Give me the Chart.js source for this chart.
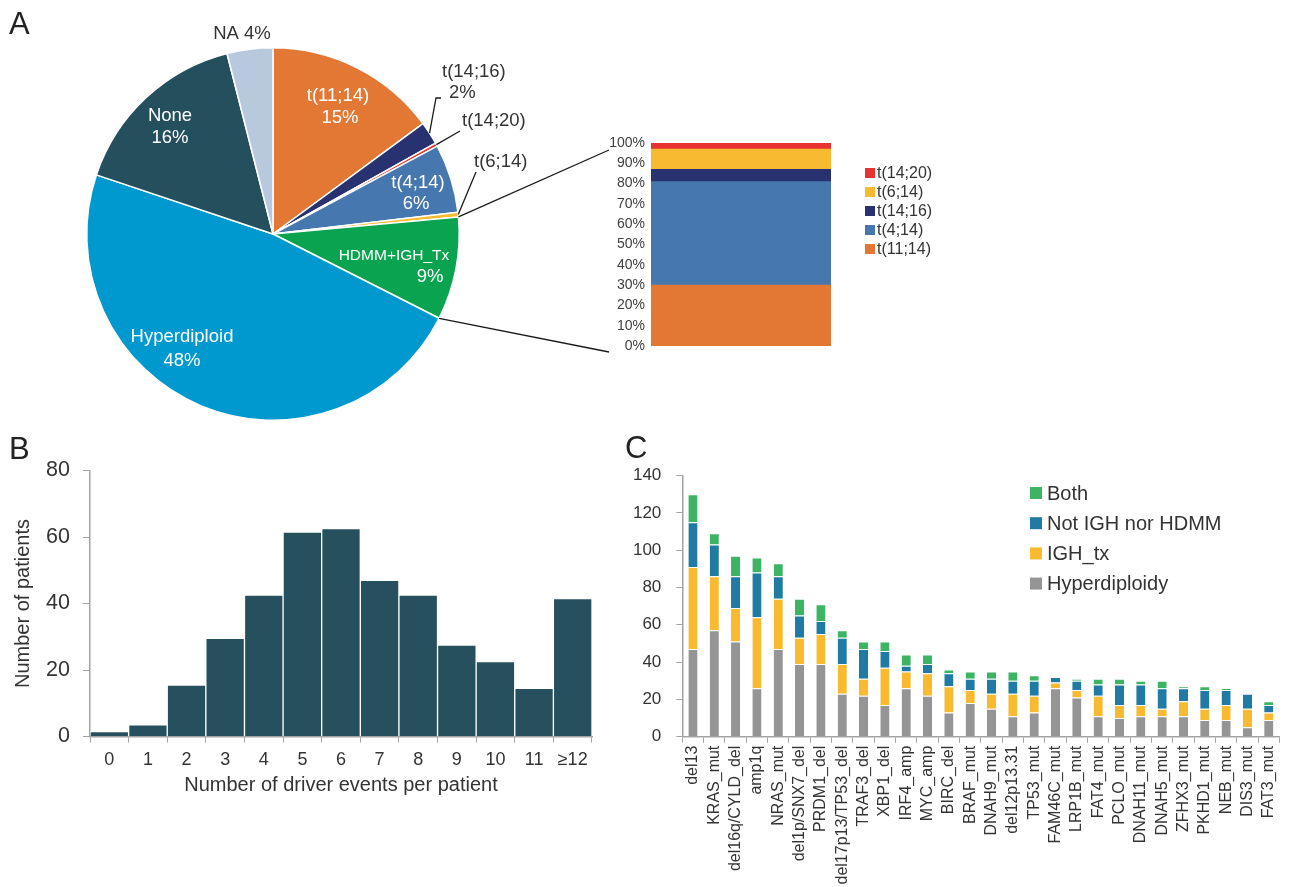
<!DOCTYPE html>
<html>
<head>
<meta charset="utf-8">
<title>Driver events in myeloma</title>
<script src="https://cdn.jsdelivr.net/npm/chart.js@4.4.1/dist/chart.umd.min.js"></script>
<style>
  html, body { margin: 0; padding: 0; background: #ffffff; }
  #page { position: relative; width: 1291px; height: 887px; overflow: hidden;
          font-family: "Liberation Sans", Arial, Helvetica, sans-serif; }
  #page canvas { position: absolute; }
  .tag { position: absolute; font-size: 31px; line-height: 1; color: #222; }
</style>
</head>
<body>
<div id="page">
  <canvas id="pie" width="620" height="430" style="left:0;top:0"></canvas>
  <canvas id="share" width="360" height="250" style="left:600px;top:120px"></canvas>
  <canvas id="hist" width="610" height="360" style="left:0;top:440px"></canvas>
  <canvas id="drivers" width="671" height="457" style="left:620px;top:430px"></canvas>
  <canvas id="links" width="1291" height="887" style="left:0;top:0;pointer-events:none"></canvas>
  <div class="tag" style="left:9px;top:8px">A</div>
  <div class="tag" style="left:9px;top:433px">B</div>
  <div class="tag" style="left:625px;top:432px">C</div>
</div>
<script>
// ---------- data ----------
// A: primary molecular groups (% of patients)
const pieLabels = ['t(11;14)', 't(14;16)', 't(14;20)', 't(4;14)', 't(6;14)', 'HDMM+IGH_Tx', 'Hyperdiploid', 'None', 'NA'];
const pieShare  = [15, 2, 0.3, 6, 0.4, 9, 48, 16, 4];
const pieColors = ['#e27833', '#283270', '#e8322f', '#4677ae', '#f8ba30', '#0aa450', '#0099cf', '#244f5d', '#b9c9dd'];

// A (inset): IGH translocation partner within HDMM+IGH_Tx, bottom to top (%)
const txLabels = ['t(11;14)', 't(4;14)', 't(14;16)', 't(6;14)', 't(14;20)'];
const txShare  = [30, 51, 6, 10, 3];
const txColors = ['#e27833', '#4677ae', '#283270', '#f8ba30', '#e8322f'];

// B: driver events per patient
const eventBins   = ['0', '1', '2', '3', '4', '5', '6', '7', '8', '9', '10', '11', '\u226512'];
const patientCount = [1.5, 3.5, 15.5, 29.5, 42.5, 61.5, 62.5, 47, 42.5, 27.5, 22.5, 14.5, 41.5];

// C: driver events split by primary group
const drivers = ['del13', 'KRAS_mut', 'del16q/CYLD_del', 'amp1q', 'NRAS_mut', 'del1p/SNX7_del', 'PRDM1_del',
  'del17p13/TP53_del', 'TRAF3_del', 'XBP1_del', 'IRF4_amp', 'MYC_amp', 'BIRC_del', 'BRAF_mut', 'DNAH9_mut',
  'del12p13.31', 'TP53_mut', 'FAM46C_mut', 'LRP1B_mut', 'FAT4_mut', 'PCLO_mut', 'DNAH11_mut', 'DNAH5_mut',
  'ZFHX3_mut', 'PKHD1_mut', 'NEB_mut', 'DIS3_mut', 'FAT3_mut'];
const hyperdiploidy = [47, 57, 51, 26, 47, 39, 39, 23, 22, 17, 26, 22, 13, 18, 15, 11, 13, 26, 21, 11, 10, 11, 11, 11, 9, 9, 5, 9];
const ighTx         = [44, 29, 18, 38, 27, 14, 16, 16, 9, 20, 9, 12, 14, 7, 8, 12, 9, 3, 4, 11, 7, 6, 4, 8, 6, 8, 10, 4];
const notIghNorHdmm = [24, 17, 17, 24, 12, 12, 7, 14, 16, 9, 3, 5, 7, 6, 8, 7, 8, 3, 5, 6, 11, 11, 11, 7, 10, 8, 8, 4];
const bothGroups    = [15, 6, 11, 8, 7, 9, 9, 4, 4, 5, 6, 5, 2, 4, 4, 5, 3, 0, 1, 3, 3, 2, 4, 1, 2, 1, 0, 2];

// ---------- shared look ----------
const FONT = '"Liberation Sans", Arial, Helvetica, sans-serif';
Chart.defaults.font.family = FONT;
Chart.defaults.color = '#333';
const AXIS = '#a3a3a3';

// square-swatch legend listed top to bottom from the last dataset down
const boxLegend = {
  id: 'boxLegend',
  afterDraw(chart, args, o) {
    const ctx = chart.ctx;
    const sets = chart.data.datasets.slice().reverse();
    ctx.save();
    ctx.font = o.size + 'px ' + FONT;
    ctx.textBaseline = 'middle';
    ctx.textAlign = 'left';
    sets.forEach((d, k) => {
      const cy = o.y + k * o.gap;
      ctx.fillStyle = d.backgroundColor;
      ctx.fillRect(o.x, cy - o.box / 2, o.box, o.box);
      ctx.fillStyle = o.color;
      ctx.fillText(d.label, o.x + o.box + o.space, cy + 1);
    });
    ctx.restore();
  }
};

// ---------- A: pie ----------
// caption placement, as pixel offsets from the pie centre
const pieCaptions = [
  { slice: 0, part: 'name', dx: 65,   dy: -138, size: 18.5, align: 'center', color: '#fff' },
  { slice: 0, part: 'pct',  dx: 67,   dy: -116, size: 18.5, align: 'center', color: '#fff' },
  { slice: 1, part: 'name', dx: 169,  dy: -162, size: 18.5, align: 'left',   color: '#333' },
  { slice: 1, part: 'pct',  dx: 176,  dy: -141, size: 18.5, align: 'left',   color: '#333' },
  { slice: 2, part: 'name', dx: 189,  dy: -113, size: 18.5, align: 'left',   color: '#333' },
  { slice: 3, part: 'name', dx: 145,  dy: -51,  size: 18.5, align: 'center', color: '#fff' },
  { slice: 3, part: 'pct',  dx: 143,  dy: -30,  size: 18.5, align: 'center', color: '#fff' },
  { slice: 4, part: 'name', dx: 201,  dy: -72,  size: 18.5, align: 'left',   color: '#333' },
  { slice: 5, part: 'name', dx: 121,  dy: 22,   size: 15.5, align: 'center', color: '#fff' },
  { slice: 5, part: 'pct',  dx: 157,  dy: 43,   size: 18.5, align: 'center', color: '#fff' },
  { slice: 6, part: 'name', dx: -91,  dy: 103,  size: 18.5, align: 'center', color: '#fff' },
  { slice: 6, part: 'pct',  dx: -91,  dy: 127,  size: 18.5, align: 'center', color: '#fff' },
  { slice: 7, part: 'name', dx: -103, dy: -118, size: 18.5, align: 'center', color: '#fff' },
  { slice: 7, part: 'pct',  dx: -103, dy: -96,  size: 18.5, align: 'center', color: '#fff' },
  { slice: 8, part: 'both', dx: -31,  dy: -200, size: 18.5, align: 'center', color: '#333' }
];
// leader lines from thin slices out to their captions
const pieLeaders = [
  { slice: 1, path: [[163, -136], [168, -136]] },
  { slice: 2, path: [[187, -103]] },
  { slice: 4, path: [[203, -62]] }
];

const pieCaptionPlugin = {
  id: 'pieCaptions',
  afterDatasetsDraw(chart) {
    const ctx = chart.ctx;
    const arcs = chart.getDatasetMeta(0).data;
    const cx = arcs[0].x, cy = arcs[0].y;
    ctx.save();
    ctx.strokeStyle = '#1a1a1a';
    ctx.lineWidth = 1.3;
    pieLeaders.forEach(l => {
      const a = arcs[l.slice];
      const mid = (a.startAngle + a.endAngle) / 2;
      ctx.beginPath();
      ctx.moveTo(a.x + a.outerRadius * Math.cos(mid), a.y + a.outerRadius * Math.sin(mid));
      l.path.forEach(p => ctx.lineTo(cx + p[0], cy + p[1]));
      ctx.stroke();
    });
    ctx.textBaseline = 'middle';
    pieCaptions.forEach(c => {
      const pct = Math.round(pieShare[c.slice]) + '%';
      const txt = c.part === 'name' ? pieLabels[c.slice] : c.part === 'pct' ? pct : pieLabels[c.slice] + ' ' + pct;
      ctx.font = c.size + 'px ' + FONT;
      ctx.fillStyle = c.color;
      ctx.textAlign = c.align;
      ctx.fillText(txt, cx + c.dx, cy + c.dy);
    });
    ctx.restore();
  }
};

const pieChart = new Chart(document.getElementById('pie'), {
  type: 'pie',
  data: {
    labels: pieLabels,
    datasets: [{ data: pieShare, backgroundColor: pieColors, borderColor: '#ffffff', borderWidth: 1.5 }]
  },
  options: {
    responsive: false,
    animation: false,
    layout: { padding: { left: 86, top: 47, right: 160, bottom: 9 } },
    plugins: { legend: { display: false }, tooltip: { enabled: false } }
  },
  plugins: [pieCaptionPlugin]
});

// ---------- A inset: 100% stacked bar ----------
const shareChart = new Chart(document.getElementById('share'), {
  type: 'bar',
  data: {
    labels: ['HDMM+IGH_Tx'],
    datasets: txLabels.map((l, i) => ({ label: l, data: [txShare[i]], backgroundColor: txColors[i] }))
  },
  options: {
    responsive: false,
    animation: false,
    datasets: { bar: { categoryPercentage: 1, barPercentage: 1 } },
    layout: { padding: { left: 0, top: 23, right: 129, bottom: 24 } },
    scales: {
      x: { stacked: true, display: false },
      y: {
        stacked: true, min: 0, max: 100,
        grid: { display: false, drawTicks: false, tickLength: 0 }, border: { display: false },
        ticks: { stepSize: 10, padding: 6, color: '#404040', font: { size: 14 }, callback: v => v + '%' },
        afterFit(s) { s.width = 51; }
      }
    },
    plugins: {
      legend: { display: false }, tooltip: { enabled: false },
      boxLegend: { x: 265, y: 53, gap: 19, box: 10, space: 2, size: 16, color: '#333' }
    }
  },
  plugins: [boxLegend]
});

// ---------- B: histogram ----------
new Chart(document.getElementById('hist'), {
  type: 'bar',
  data: {
    labels: eventBins,
    datasets: [{ data: patientCount, backgroundColor: '#26505e', borderColor: '#ffffff', borderWidth: 1 }]
  },
  options: {
    responsive: false,
    animation: false,
    datasets: { bar: { categoryPercentage: 1, barPercentage: 1 } },
    layout: { padding: { left: 0, top: 30.5, right: 18, bottom: 0 } },
    scales: {
      x: {
        grid: { drawOnChartArea: false, tickLength: 6, color: AXIS, offset: true },
        border: { color: AXIS, width: 1.5 },
        ticks: { color: '#333', font: { size: 18 }, padding: 7 },
        title: { display: true, text: 'Number of driver events per patient', color: '#333',
                 font: { size: 20 }, padding: { top: 0, bottom: 3 } },
        afterFit(s) { s.height = 63.5; }
      },
      y: {
        min: 0, max: 80,
        grid: { drawOnChartArea: false, tickLength: 7, color: AXIS },
        border: { color: AXIS, width: 1.5 },
        ticks: { stepSize: 20, color: '#333', font: { size: 21.5 }, padding: 13 },
        title: { display: true, text: 'Number of patients', color: '#333',
                 font: { size: 20 }, padding: { top: 11, bottom: 0 } },
        afterFit(s) { s.width = 90; }
      }
    },
    plugins: { legend: { display: false }, tooltip: { enabled: false } }
  }
});

// ---------- C: driver events by group ----------
const groupSeries = [
  { label: 'Hyperdiploidy',     data: hyperdiploidy, backgroundColor: '#959595' },
  { label: 'IGH_tx',            data: ighTx,         backgroundColor: '#f9ba2f' },
  { label: 'Not IGH nor HDMM',  data: notIghNorHdmm, backgroundColor: '#1f7ba3' },
  { label: 'Both',              data: bothGroups,    backgroundColor: '#3db463' }
];
new Chart(document.getElementById('drivers'), {
  type: 'bar',
  data: {
    labels: drivers,
    datasets: groupSeries.map(s => Object.assign({
      borderColor: 'rgba(255,255,255,0.6)',
      borderWidth: { top: 1, bottom: 0, left: 0, right: 0 },
      borderSkipped: false
    }, s))
  },
  options: {
    responsive: false,
    animation: false,
    datasets: { bar: { categoryPercentage: 1, barPercentage: 0.43 } },
    layout: { padding: { left: 0, top: 45.5, right: 1.4, bottom: 0 } },
    scales: {
      x: {
        stacked: true,
        grid: { drawOnChartArea: false, tickLength: 6, color: AXIS, offset: true },
        border: { color: AXIS, width: 1.5 },
        ticks: { color: '#333', font: { size: 16 }, minRotation: 90, maxRotation: 90, autoSkip: false, padding: 3 },
        afterFit(s) { s.height = 150.3; }
      },
      y: {
        stacked: true, min: 0, max: 140,
        grid: { drawOnChartArea: false, tickLength: 6, color: AXIS },
        border: { color: AXIS, width: 1.5 },
        ticks: { stepSize: 20, color: '#333', font: { size: 17 }, padding: 15 },
        afterFit(s) { s.width = 62.3; }
      }
    },
    plugins: {
      legend: { display: false }, tooltip: { enabled: false },
      boxLegend: { x: 410, y: 63, gap: 30.2, box: 12, space: 5, size: 20, color: '#333' }
    }
  },
  plugins: [boxLegend]
});

// ---------- connectors from the HDMM+IGH_Tx slice to the inset bar ----------
(function drawLinks() {
  const ctx = document.getElementById('links').getContext('2d');
  const pieBox = document.getElementById('pie');
  const shareBox = document.getElementById('share');
  const slice = pieChart.getDatasetMeta(0).data[pieLabels.indexOf('HDMM+IGH_Tx')];
  const ox = pieBox.offsetLeft, oy = pieBox.offsetTop;
  const area = shareChart.chartArea;
  const sx = shareBox.offsetLeft + area.left - 42;
  const tops = [shareBox.offsetTop + area.top + 7, shareBox.offsetTop + area.bottom + 6];
  const angles = [slice.startAngle, slice.endAngle];
  ctx.strokeStyle = '#1a1a1a';
  ctx.lineWidth = 1.3;
  angles.forEach((ang, k) => {
    ctx.beginPath();
    ctx.moveTo(ox + slice.x + slice.outerRadius * Math.cos(ang), oy + slice.y + slice.outerRadius * Math.sin(ang));
    ctx.lineTo(sx, tops[k]);
    ctx.stroke();
  });
})();
</script>
</body>
</html>
